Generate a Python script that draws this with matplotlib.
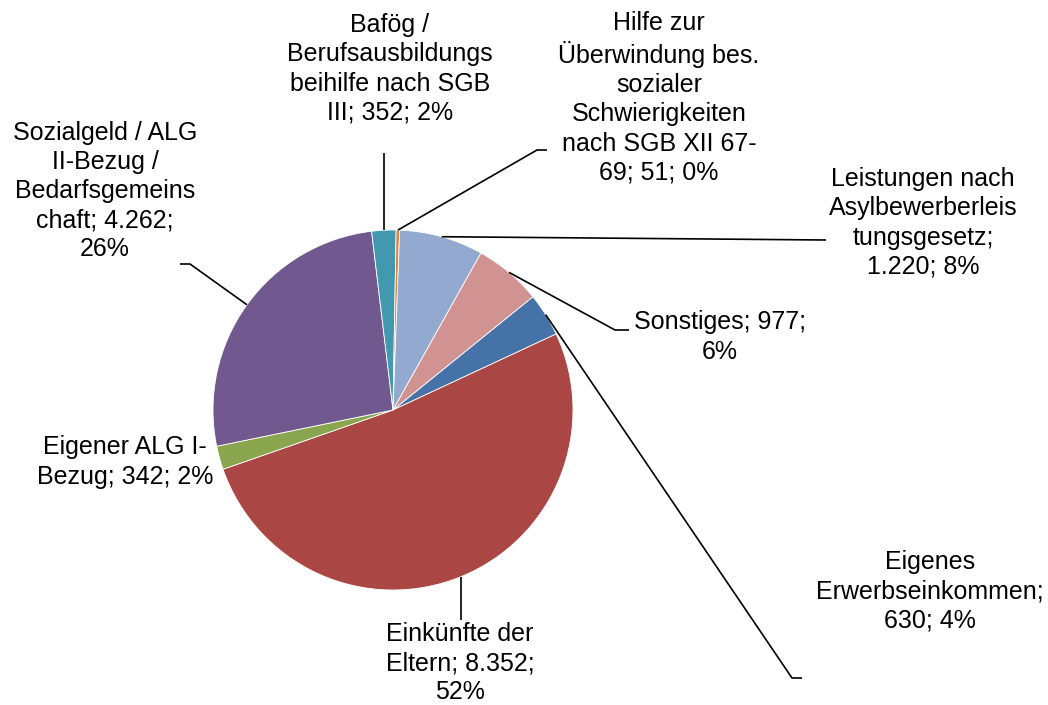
import math
import matplotlib
matplotlib.use("Agg")
import matplotlib.pyplot as plt

plt.rcParams['font.family'] = ['Liberation Sans', 'DejaVu Sans']

# Einkommensquellen (Reihenfolge wie in der Tabelle)
values = [630, 8352, 342, 4262, 352, 51, 1220, 977]
label_fmt = [
    "Eigenes\nErwerbseinkommen;\n{v}; {p}",
    "Einkünfte der\nEltern; {v};\n{p}",
    "Eigener ALG I-\nBezug; {v}; {p}",
    "Sozialgeld / ALG\nII-Bezug /\nBedarfsgemeins\nchaft; {v};\n{p}",
    "Bafög /\nBerufsausbildungs\nbeihilfe nach SGB\nIII; {v}; {p}",
    "Hilfe zur\nÜberwindung bes.\nsozialer\nSchwierigkeiten\nnach SGB XII 67-\n69; {v}; {p}",
    "Leistungen nach\nAsylbewerberleis\ntungsgesetz;\n{v}; {p}",
    "Sonstiges; {v};\n{p}",
]
colors = ['#4572A7', '#AA4643', '#89A54E', '#71588F',
          '#4198AF', '#DB843D', '#93A9CF', '#D19392']

W, H = 1048, 705
cx, cy, R = 393, H - 410, 180

# Beschriftungspositionen (Pixel, y von oben) und Knickpunkte der Führungslinien
label_pos = [(930, 591), (460, 663), (125, 462), (105, 191),
             (390, 69), (659, 98), (923, 223), (720, 337)]
leader_pts = [
    [(792, 678), (802, 678)],
    [(None, 620)],
    [],
    [(190, 264), (180, 264)],
    [(None, 153)],
    [(537, 150), (547, 150)],
    [(826, 240)],
    [(615, 330), (629, 330)],
]

fig = plt.figure(figsize=(W / 100, H / 100), dpi=100)
ax = fig.add_axes([0, 0, 1, 1])

wedges, _ = ax.pie(values, colors=colors, startangle=39, counterclock=False,
                   center=(cx, cy), radius=R,
                   wedgeprops=dict(edgecolor='white', linewidth=0.6))

total = sum(values)
for w, v, fmt, (lx, ly), pts in zip(wedges, values, label_fmt, label_pos, leader_pts):
    pct = f"{round(v / total * 100)}%"
    txt = fmt.format(v=f"{v:,}".replace(",", "."), p=pct)
    ax.text(lx, H - ly, txt, ha='center', va='center', multialignment='center',
            fontsize=18, linespacing=1.27, color='black')
    if not pts:
        continue
    # Linie beginnt am Rand in der Mitte des Segments
    a = math.radians((w.theta1 + w.theta2) / 2)
    ex, ey = cx + R * math.cos(a), cy + R * math.sin(a)
    xs, ys = [ex], [ey]
    for px, py in pts:
        xs.append(ex if px is None else px)
        ys.append(H - py)
    ax.plot(xs, ys, color='black', lw=1.2, solid_capstyle='butt')

ax.set_xlim(0, W)
ax.set_ylim(0, H)
ax.set_aspect('equal')
ax.axis('off')

fig.savefig('out.png', dpi=100, facecolor='white')
